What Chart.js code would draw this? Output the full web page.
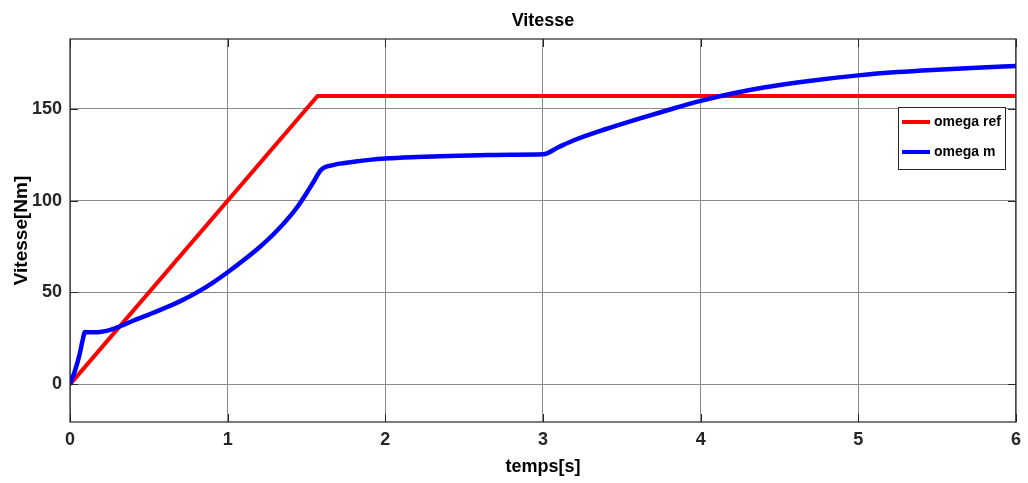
<!DOCTYPE html>
<html>
<head>
<meta charset="utf-8">
<script src="https://cdn.jsdelivr.net/npm/chart.js@4.4.1/dist/chart.umd.min.js"></script>
<style>
  html, body { margin: 0; padding: 0; background: #ffffff; }
  #wrap { width: 1028px; height: 483px; position: relative; }
</style>
</head>
<body>
<div id="wrap"><canvas id="c" width="1028" height="483"></canvas></div>
<script>
// ---- data ----
const chartTitle = "Vitesse";
const xAxisTitle = "temps[s]";
const yAxisTitle = "Vitesse[Nm]";
const xTicks = [0, 1, 2, 3, 4, 5, 6];
const yTicks = [0, 50, 100, 150];

const refLabel = "omega ref";
const refTime = [0, 1.57, 6];
const refValues = [0, 157, 157];

const mLabel = "omega m";
const mTime = [0, 0.03, 0.06, 0.08, 0.095, 0.12, 0.15, 0.2, 0.25, 0.3, 0.35, 0.4, 0.45, 0.5, 0.6, 0.7, 0.8, 0.9, 1.0, 1.1, 1.2, 1.3, 1.4, 1.45, 1.5, 1.55, 1.59, 1.62, 1.66, 1.7, 1.8, 1.9, 2.0, 2.2, 2.4, 2.6, 2.8, 3.0, 3.1, 3.2, 3.4, 3.6, 3.8, 4.0, 4.2, 4.4, 4.7, 5.0, 5.25, 5.5, 5.75, 6.0];
const mValues = [0, 7, 16, 24, 28.5, 28.3, 28.3, 28.6, 29.5, 31, 32.8, 34.6, 36.3, 38, 41.5, 45.3, 49.8, 55, 61, 67.5, 74.5, 82.5, 92, 97.5, 104, 111, 116.5, 118.3, 119.2, 120, 121.2, 122.2, 122.9, 123.7, 124.3, 124.7, 125, 125.2, 129.2, 133, 139, 144.4, 149.5, 154.3, 158.3, 161.6, 165.3, 168.2, 170, 171.3, 172.4, 173.3];

const FONT = "'Liberation Sans', Arial, sans-serif";

function toPoints(xs, ys) { return xs.map((x, i) => ({ x: x, y: ys[i] })); }

const framePlugin = {
  id: 'frame',
  afterDatasetsDraw(chart) {
    const ctx = chart.ctx;
    const a = chart.chartArea;
    const xs = chart.scales.x, ys = chart.scales.y;
    ctx.save();
    ctx.strokeStyle = '#262626';
    ctx.lineWidth = 1;
    const L = 8;
    ctx.beginPath();
    xTicks.forEach(v => {
      const px = Math.round(xs.getPixelForValue(v)) + 0.5;
      ctx.moveTo(px, a.bottom); ctx.lineTo(px, a.bottom - L);
      ctx.moveTo(px, a.top); ctx.lineTo(px, a.top + L);
    });
    yTicks.forEach(v => {
      const py = Math.round(ys.getPixelForValue(v)) + 0.5;
      ctx.moveTo(a.left, py); ctx.lineTo(a.left + L, py);
      ctx.moveTo(a.right, py); ctx.lineTo(a.right - L, py);
    });
    ctx.stroke();
    ctx.lineWidth = 1.2;
    ctx.strokeRect(a.left, a.top, a.right - a.left, a.bottom - a.top);
    ctx.restore();
  },
  afterDraw(chart) {
    const ctx = chart.ctx;
    const a = chart.chartArea;
    ctx.save();
    ctx.fillStyle = '#000000';
    ctx.font = "bold 18px " + FONT;
    ctx.textAlign = 'center';
    ctx.textBaseline = 'middle';
    ctx.fillText(chartTitle, (a.left + a.right) / 2, 21);
    const bx = 898, by = 107, bw = 107, bh = 62;
    ctx.fillStyle = '#ffffff';
    ctx.fillRect(bx, by, bw, bh);
    ctx.strokeStyle = '#262626';
    ctx.lineWidth = 1;
    ctx.strokeRect(bx + 0.5, by + 0.5, bw, bh);
    const ds = chart.data.datasets;
    const rows = [122, 152];
    ds.forEach((d, i) => {
      ctx.strokeStyle = d.borderColor;
      ctx.lineWidth = 4;
      ctx.beginPath();
      ctx.moveTo(902, rows[i]); ctx.lineTo(930, rows[i]);
      ctx.stroke();
      ctx.fillStyle = '#000000';
      ctx.font = "bold 14px " + FONT;
      ctx.textAlign = 'left';
      ctx.textBaseline = 'middle';
      ctx.fillText(d.label, 934, rows[i]);
    });
    ctx.restore();
  }
};

new Chart(document.getElementById('c'), {
  type: 'line',
  data: {
    datasets: [
      { label: refLabel, data: toPoints(refTime, refValues), borderColor: '#ff0000', borderWidth: 4, pointRadius: 0, tension: 0, fill: false, order: 2 },
      { label: mLabel, data: toPoints(mTime, mValues), borderColor: '#0000ff', borderWidth: 4.5, pointRadius: 0, cubicInterpolationMode: 'monotone', fill: false, order: 1 }
    ]
  },
  options: {
    responsive: false,
    animation: false,
    events: [],
    layout: { padding: { top: 39, right: 9, left: 0, bottom: 0 } },
    plugins: { legend: { display: false }, title: { display: false }, tooltip: { enabled: false } },
    scales: {
      x: {
        type: 'linear', min: 0, max: 6,
        afterBuildTicks(s) { s.ticks = xTicks.map(v => ({ value: v })); },
        afterFit(s) { s.height = 61; },
        grid: { color: '#8a8a8a', lineWidth: 1, drawTicks: false },
        border: { display: false },
        ticks: { color: '#262626', padding: 7, font: { family: FONT, size: 18, weight: 'bold' }, maxRotation: 0, autoSkip: false },
        title: { display: true, text: xAxisTitle, color: '#000000', font: { family: FONT, size: 18, weight: 'bold' }, padding: { top: 0, bottom: 5 } }
      },
      y: {
        type: 'linear', min: -20.5, max: 188,
        afterBuildTicks(s) { s.ticks = yTicks.map(v => ({ value: v })); },
        afterFit(s) { s.width = 70; },
        grid: { color: '#8a8a8a', lineWidth: 1, drawTicks: false },
        border: { display: false },
        ticks: { color: '#262626', padding: 8, font: { family: FONT, size: 18, weight: 'bold' } },
        title: { display: true, text: yAxisTitle, color: '#000000', font: { family: FONT, size: 19, weight: 'bold' }, padding: { top: 10, bottom: 0 } }
      }
    }
  },
  plugins: [framePlugin]
});
</script>
</body>
</html>
